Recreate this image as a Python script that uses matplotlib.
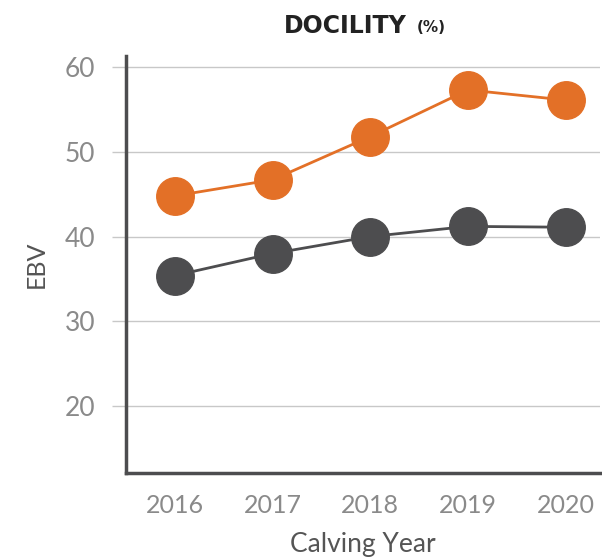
import matplotlib
matplotlib.use("Agg")
import matplotlib.pyplot as plt

years = [2016, 2017, 2018, 2019, 2020]
docility_orange = [44.8, 46.7, 51.8, 57.3, 56.1]
docility_dark = [35.4, 38.0, 40.0, 41.2, 41.1]
y_ticks = [20, 30, 40, 50, 60]

ORANGE = '#e37027'
DARK = '#4d4d4f'
GRID = '#c8c8c8'

plt.rcParams['font.family'] = ['Lato', 'DejaVu Sans']

fig = plt.figure(figsize=(6.02, 5.59), dpi=100)
ax = fig.add_axes([0.2093, 0.1538, 0.7874, 0.746])

ax.plot(years, docility_orange, '-', color=ORANGE, lw=2, zorder=3)
ax.plot(years, docility_orange, 'o', color=ORANGE, ms=27, zorder=4)
ax.plot(years, docility_dark, '-', color=DARK, lw=2, zorder=3)
ax.plot(years, docility_dark, 'o', color=DARK, ms=27, zorder=4)

ax.set_xlim(2015.5, 2020.35)
ax.set_ylim(12.1, 61.3)
ax.set_xticks(years)
ax.set_yticks(y_ticks)

ax.grid(axis='y', color=GRID, lw=1, zorder=0)
ax.set_axisbelow(True)
for s in ['top', 'right']:
    ax.spines[s].set_visible(False)
for s in ['left', 'bottom']:
    ax.spines[s].set_color(DARK)
    ax.spines[s].set_linewidth(2.5)

ax.tick_params(axis='y', length=10, width=1, color=GRID, labelsize=19,
               labelcolor='#8a8a8a', pad=12)
ax.tick_params(axis='x', length=0, labelsize=18, labelcolor='#8a8a8a', pad=15)

ax.set_xlabel('Calving Year', fontsize=19, color='#555555')
ax.xaxis.set_label_coords(0.5, -0.142)
ax.set_ylabel('EBV', fontsize=18, color='#555555')
ax.yaxis.set_label_coords(-0.166, 0.5)

fig.text(0.676, 0.953, 'DOCILITY', ha='right', va='center', fontsize=17,
         fontweight='bold', color='#222222', family='DejaVu Sans')
fig.text(0.692, 0.951, '(%)', ha='left', va='center', fontsize=11,
         fontweight='bold', color='#222222', family='DejaVu Sans')

fig.savefig('out.png', dpi=100)
